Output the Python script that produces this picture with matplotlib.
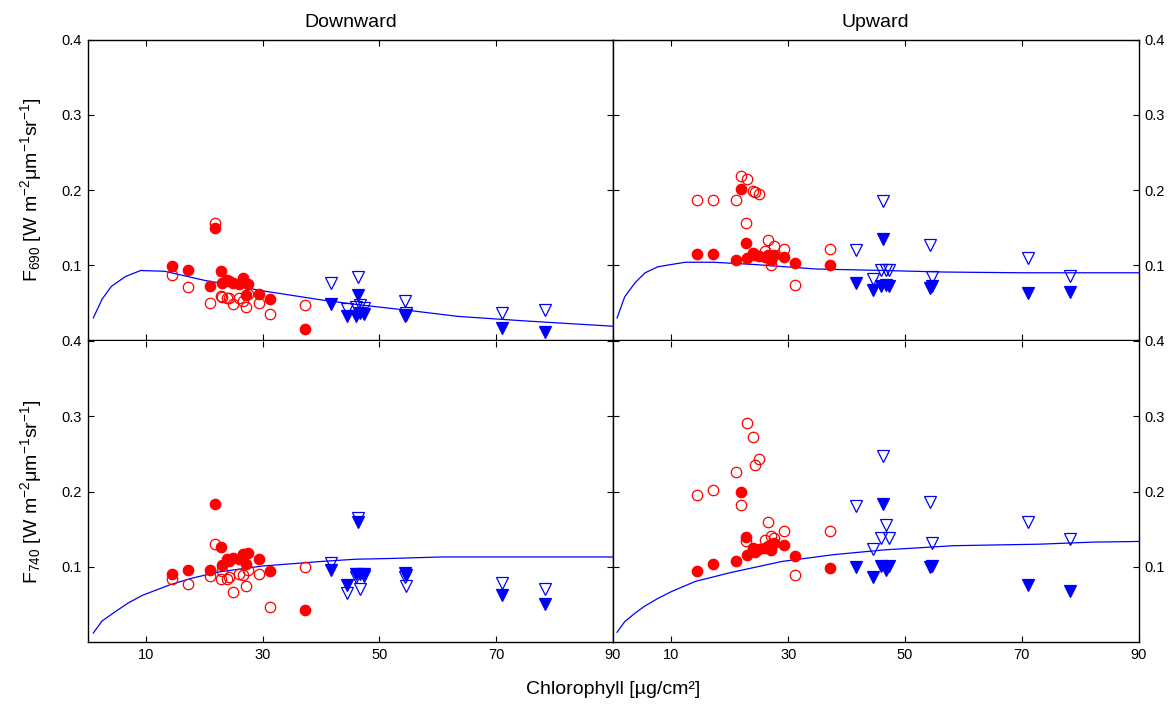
import matplotlib
matplotlib.use("Agg")
import matplotlib.pyplot as plt

plt.rcParams['font.family'] = ['Liberation Sans', 'DejaVu Sans']
plt.rcParams['mathtext.fontset'] = 'custom'
plt.rcParams['mathtext.rm'] = 'Liberation Sans'
plt.rcParams['mathtext.it'] = 'Liberation Sans:italic'

# ---- data ----
red_x = [14.4, 17.2, 21.0, 21.9, 22.8, 23.0, 23.9, 24.3, 25.0, 26.0, 26.6, 27.1, 27.5, 29.3, 31.2, 37.2]
blue_x = [41.7, 44.5, 45.9, 46.3, 46.7, 47.3, 54.3, 54.6, 71.0, 78.3]

f690_down_red_filled = [0.099, 0.094, 0.072, 0.150, 0.092, 0.077, 0.081, 0.079, 0.077, 0.075, 0.083, 0.061, 0.075, 0.062, 0.055, 0.015]
f690_down_red_open = [0.087, 0.071, 0.050, 0.156, 0.059, 0.058, 0.057, 0.056, 0.049, 0.057, 0.052, 0.044, 0.062, 0.050, 0.035, 0.047]
f690_up_red_filled = [0.115, 0.115, 0.107, 0.201, 0.130, 0.110, 0.116, 0.113, 0.112, 0.111, 0.114, 0.107, 0.114, 0.111, 0.103, 0.100]
f690_up_red_open = [0.187, 0.187, 0.187, 0.218, 0.156, 0.215, 0.199, 0.197, 0.195, 0.119, 0.134, 0.100, 0.126, 0.121, 0.074, 0.122]
f740_down_red_filled = [0.090, 0.096, 0.096, 0.183, 0.126, 0.102, 0.110, 0.108, 0.111, 0.110, 0.117, 0.104, 0.118, 0.110, 0.094, 0.042]
f740_down_red_open = [0.084, 0.077, 0.088, 0.130, 0.084, 0.095, 0.084, 0.086, 0.067, 0.091, 0.089, 0.075, 0.096, 0.091, 0.047, 0.100]
f740_up_red_filled = [0.094, 0.104, 0.108, 0.200, 0.140, 0.115, 0.125, 0.120, 0.123, 0.125, 0.127, 0.122, 0.131, 0.129, 0.114, 0.098]
f740_up_red_open = [0.195, 0.202, 0.226, 0.182, 0.134, 0.291, 0.272, 0.235, 0.243, 0.136, 0.159, 0.141, 0.138, 0.147, 0.089, 0.147]

f690_down_blue_filled = [0.048, 0.032, 0.033, 0.061, 0.036, 0.035, 0.032, 0.034, 0.016, 0.011]
f690_down_blue_open = [0.076, 0.042, 0.045, 0.085, 0.047, 0.043, 0.053, 0.036, 0.036, 0.040]
f690_up_blue_filled = [0.076, 0.067, 0.072, 0.135, 0.074, 0.072, 0.070, 0.072, 0.063, 0.065]
f690_up_blue_open = [0.120, 0.082, 0.094, 0.185, 0.094, 0.094, 0.127, 0.085, 0.110, 0.086]
f740_down_blue_filled = [0.096, 0.076, 0.090, 0.160, 0.090, 0.090, 0.092, 0.089, 0.062, 0.050]
f740_down_blue_open = [0.105, 0.065, 0.087, 0.165, 0.071, 0.088, 0.087, 0.074, 0.078, 0.071]
f740_up_blue_filled = [0.100, 0.086, 0.101, 0.184, 0.096, 0.101, 0.100, 0.101, 0.076, 0.068]
f740_up_blue_open = [0.181, 0.123, 0.138, 0.247, 0.155, 0.138, 0.186, 0.132, 0.159, 0.137]

f690_down_model_x = [1.0, 2.5, 4.1, 6.5, 9.1, 13.2, 20, 30, 40, 45.9, 55, 63.5, 75, 89.9]
f690_down_model_y = [0.030, 0.055, 0.072, 0.085, 0.093, 0.092, 0.080, 0.066, 0.054, 0.048, 0.040, 0.032, 0.026, 0.019]
f690_up_model_x = [0.7, 2.0, 3.8, 5.5, 7.7, 10, 12.4, 17.1, 24.2, 34.8, 46.6, 56.6, 70, 90]
f690_up_model_y = [0.030, 0.058, 0.077, 0.090, 0.098, 0.101, 0.104, 0.104, 0.101, 0.095, 0.093, 0.091, 0.090, 0.090]
f740_down_model_x = [1.0, 2.5, 4.7, 7.0, 9.4, 14.1, 18, 22.4, 30, 40, 45.9, 51.8, 60.6, 75, 89.9]
f740_down_model_y = [0.012, 0.028, 0.040, 0.052, 0.062, 0.076, 0.085, 0.093, 0.101, 0.107, 0.110, 0.111, 0.113, 0.113, 0.113]
f740_up_model_x = [0.7, 2.0, 3.8, 5.5, 7.6, 10, 14.1, 20, 28.9, 37.7, 46.6, 58.4, 73.1, 82, 90]
f740_up_model_y = [0.013, 0.027, 0.0385, 0.048, 0.0575, 0.067, 0.0805, 0.092, 0.107, 0.116, 0.1225, 0.128, 0.130, 0.1327, 0.1336]

x_ticks = [10, 30, 50, 70, 90]
y_ticks = [0.1, 0.2, 0.3, 0.4]
titles = ['Downward', 'Upward']
ylabels = [r'F$_{690}$ [W m$^{-2}$μm$^{-1}$sr$^{-1}$]', r'F$_{740}$ [W m$^{-2}$μm$^{-1}$sr$^{-1}$]']
xlabel = 'Chlorophyll [µg/cm²]'

panels = [
    [(f690_down_red_filled, f690_down_red_open, f690_down_blue_filled, f690_down_blue_open, f690_down_model_x, f690_down_model_y),
     (f690_up_red_filled, f690_up_red_open, f690_up_blue_filled, f690_up_blue_open, f690_up_model_x, f690_up_model_y)],
    [(f740_down_red_filled, f740_down_red_open, f740_down_blue_filled, f740_down_blue_open, f740_down_model_x, f740_down_model_y),
     (f740_up_red_filled, f740_up_red_open, f740_up_blue_filled, f740_up_blue_open, f740_up_model_x, f740_up_model_y)],
]

W, H = 1172, 707
fig = plt.figure(figsize=(W / 100, H / 100), dpi=100)
fig.patch.set_facecolor('white')

left_px = [87.5, 613.0]
top_px = [39.5, 341.0]
aw, ah = 525.5, 301.0

for r in range(2):
    for c in range(2):
        ax = fig.add_axes([left_px[c] / W, 1 - (top_px[r] + ah) / H, aw / W, ah / H])
        rf, ro, bf, bo, mx, my = panels[r][c]
        ax.plot(mx, my, color='#0000ff', lw=0.9, zorder=2)
        ax.plot(red_x, ro, linestyle='none', marker='o', ms=7.5, mfc='none', mec='#ff0000', mew=0.9, zorder=3)
        ax.plot(red_x, rf, linestyle='none', marker='o', ms=7.5, mfc='#ff0000', mec='#ff0000', mew=0.9, zorder=4)
        ax.plot(blue_x, bo, linestyle='none', marker='v', ms=8, mfc='none', mec='#0000ff', mew=0.9, zorder=3)
        ax.plot(blue_x, bf, linestyle='none', marker='v', ms=8, mfc='#0000ff', mec='#0000ff', mew=0.9, zorder=4)
        ax.set_xlim(0, 90)
        ax.set_ylim(0, 0.4)
        ax.set_xticks(x_ticks)
        ax.set_yticks(y_ticks)
        ax.set_yticklabels(['%.1f' % v for v in y_ticks])
        ax.tick_params(direction='in', length=4, width=0.8, top=True, right=True,
                       labelsize=10.5, colors='black', pad=4)
        if c == 1:
            ax.tick_params(labelleft=False, labelright=True)
        if r == 0:
            ax.tick_params(labelbottom=False)
            ax.set_title(titles[c], fontsize=14, pad=9)
        else:
            ax.set_xticklabels([str(v) for v in x_ticks])
            ax.spines['top'].set_visible(False)
        if c == 0:
            ax.set_ylabel(ylabels[r], fontsize=14, labelpad=13)
        for s in ax.spines.values():
            s.set_linewidth(1.0)
            s.set_color('black')

fig.text(613 / W, 1 - 690 / H, xlabel, ha='center', va='center', fontsize=14)

fig.savefig('out.png', dpi=100, facecolor='white')
